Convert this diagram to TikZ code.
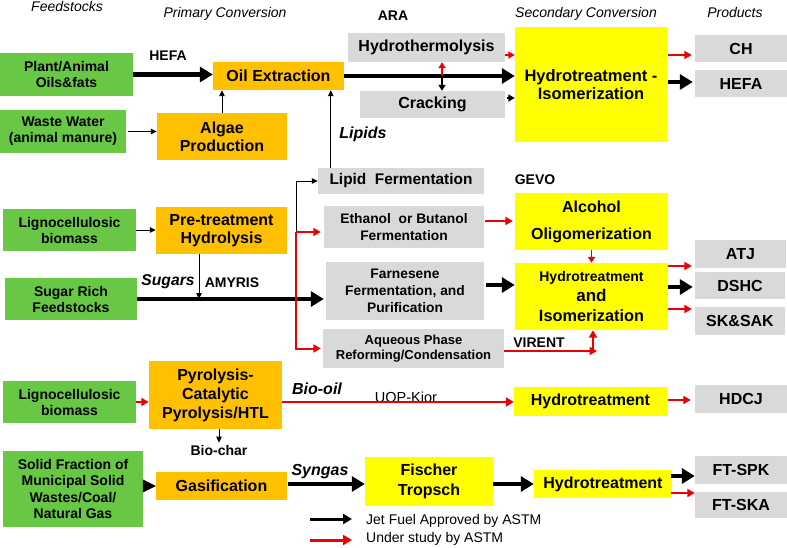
\documentclass[tikz,border=0pt]{standalone}
\usepackage{fontspec}
\setmainfont{Liberation Sans}
\usetikzlibrary{arrows.meta}
\definecolor{grn}{RGB}{104,200,70}
\definecolor{org}{RGB}{255,192,0}
\definecolor{gry}{RGB}{217,217,217}
\definecolor{yel}{RGB}{255,255,0}
\definecolor{rd}{RGB}{236,0,0}
\begin{document}
\begin{tikzpicture}[x=1pt,y=-1pt,
  sz/.style 2 args={minimum width=#1pt, minimum height=#2pt},
  box/.style={inner sep=0pt, align=center, font=\bfseries\fontsize{16}{18}\selectfont},
  gbox/.style={box, fill=grn, font=\bfseries\fontsize{14}{16}\selectfont},
  obox/.style={box, fill=org},
  ybox/.style={box, fill=yel},
  gbx/.style={box, fill=gry},
  thk/.style={line width=4.5pt, -{Triangle[length=13pt,width=15pt]}},
  thn/.style={line width=1pt, -{Triangle[length=6pt,width=5.5pt]}},
  rar/.style={color=rd, line width=2pt, -{Triangle[length=7.5pt,width=8pt]}},
  lbl/.style={font=\bfseries\fontsize{14}{16}\selectfont, inner sep=0pt},
  ilbl/.style={font=\bfseries\itshape\fontsize{16}{18}\selectfont, inner sep=0pt},
  hdr/.style={font=\itshape\fontsize{14}{16}\selectfont, inner sep=0pt, anchor=base},
]
\useasboundingbox (0,0) rectangle (787,547);

% headers
\node[hdr] (hFeed) at (67,11.5) {Feedstocks};
\node[hdr] (hPrim) at (225,17) {Primary Conversion};
\node[hdr] (hSec) at (586,17) {Secondary Conversion};
\node[hdr] (hProd) at (735,17) {Products};

% feedstocks
\node[gbox, sz={133}{43}] (plant) at (66.5,74.5) {Plant/Animal\\Oils\&fats};
\node[gbox, sz={126}{43}] (waste) at (63,131.5) {Waste Water\\(animal manure)};
\node[gbox, sz={133}{42}] (ligA) at (69.5,230) {Lignocellulosic\\biomass};
\node[gbox, sz={132}{42}] (sugar) at (71,299) {Sugar Rich\\Feedstocks};
\node[gbox, sz={133}{42}] (ligB) at (69.5,402) {Lignocellulosic\\biomass};
\node[gbox, sz={140}{76}, font=\bfseries\fontsize{14}{16.5}\selectfont] (solid) at (73,489) {Solid Fraction of\\Municipal Solid\\Wastes/Coal/\\Natural Gas};

% primary conversion
\node[obox, sz={131}{28}] (oil) at (278.5,76) {Oil Extraction};
\node[obox, sz={130}{47}] (algae) at (222,136.5) {Algae\\Production};
\node[obox, sz={131}{47}] (pre) at (221.5,230.5) {Pre-treatment\\Hydrolysis};
\node[obox, sz={133}{68}, font=\bfseries\fontsize{16}{19}\selectfont] (pyro) at (215.5,395) {Pyrolysis-\\Catalytic\\Pyrolysis/HTL};
\node[obox, sz={131}{28}] (gas) at (221.5,486) {Gasification};

% intermediate (gray)
\node[gbx, sz={157}{29}] (hyd) at (426.5,47.5) {Hydrothermolysis};
\node[gbx, sz={145}{27}] (crk) at (432.5,104.5) {Cracking};
\node[gbx, sz={166}{26}, font=\bfseries\fontsize{15.4}{17}\selectfont] (lip) at (401,181) {Lipid~~Fermentation};
\node[gbx, sz={160}{42}, font=\bfseries\fontsize{13.8}{17}\selectfont] (eth) at (404,227) {Ethanol~~or Butanol\\Fermentation};
\node[gbx, sz={158}{58}, font=\bfseries\fontsize{13.8}{17}\selectfont] (far) at (405,291) {Farnesene\\Fermentation, and\\Purification};
\node[gbx, sz={181}{39}, font=\bfseries\fontsize{13}{15}\selectfont] (aq) at (413.5,348.5) {Aqueous Phase\\Reforming/Condensation};

% secondary conversion (yellow)
\node[ybox, sz={152}{115}, font=\bfseries\fontsize{16.5}{17.5}\selectfont] (hti) at (591,84.5) {Hydrotreatment -\\Isomerization};
\node[ybox, sz={153}{57}, font=\bfseries\fontsize{16}{27}\selectfont] (alc) at (591.5,221.5) {Alcohol\\Oligomerization};
\node[ybox, sz={153}{67}, font=\bfseries\fontsize{14}{20}\selectfont] (hti2) at (591.5,296.5) {Hydrotreatment\\\fontsize{17}{20}\selectfont and\\\fontsize{16.3}{20}\selectfont Isomerization};
\node[ybox, sz={153}{29}] (ht3) at (590.5,401.5) {Hydrotreatment};
\node[ybox, sz={128}{49}, font=\bfseries\fontsize{16}{20}\selectfont] (ft) at (429,481.5) {Fischer\\Tropsch};
\node[ybox, sz={138}{28}] (ht4) at (603,484) {Hydrotreatment};

% products
\node[gbx, sz={92}{27}] (pCH) at (741,48.5) {CH};
\node[gbx, sz={92}{27}] (pHEFA) at (741,83.5) {HEFA};
\node[gbx, sz={91}{28}] (pATJ) at (740.5,254) {ATJ};
\node[gbx, sz={90}{27}] (pDSHC) at (740,285.5) {DSHC};
\node[gbx, sz={90}{28}] (pSK) at (740,321) {SK\&SAK};
\node[gbx, sz={92}{28}] (pHDCJ) at (741,399) {HDCJ};
\node[gbx, sz={92}{28}] (pSPK) at (741,470) {FT-SPK};
\node[gbx, sz={92}{26}] (pSKA) at (741,505) {FT-SKA};

% labels
\node[lbl] (tHEFA) at (168,55.5) {HEFA};
\node[lbl, anchor=base] (tARA) at (393,20) {ARA};
\node[ilbl] (tLip) at (363,134) {Lipids};
\node[lbl] (tGEVO) at (535,180) {GEVO};
\node[ilbl, font=\bfseries\itshape\fontsize{15.7}{18}\selectfont] (tSug) at (168,282) {Sugars};
\node[lbl] (tAMY) at (232,283) {AMYRIS};
\node[lbl] (tVIR) at (539,343) {VIRENT};
\node[ilbl] (tBio) at (317,389) {Bio-oil};
\node[font=\fontsize{14.5}{16}\selectfont, inner sep=0pt] (tUOP) at (406,397) {UOP-Kior};
\node[lbl] (tChar) at (219,450) {Bio-char};
\node[ilbl] (tSyn) at (320,472) {Syngas};

% connectors: top row
\draw[thk] (plant.east) -- (oil.west |- plant.east);
\draw[thn] ([xshift=2pt]waste.east) -- (algae.west |- waste.east);
\draw[thn] (algae.north) -- (algae.north |- oil.south);
\coordinate (lipTop) at ([xshift=13pt]lip.north west);
\draw[thn] (lipTop) -- (lipTop |- oil.south);
\draw[thk] (oil.east) -- (hti.west |- oil.east);
\coordinate (jn) at (442,76);
\draw[rar, line width=1.8pt, -{Triangle[length=6pt,width=7pt]}] (jn) -- (jn |- hyd.south);
\draw[line width=1.5pt, -{Triangle[length=6pt,width=7pt]}] (jn) -- (jn |- crk.north);
\draw[rar, line width=1.6pt, -{Triangle[length=6.5pt,width=7pt]}] (hyd.east |- 0,55) -- (hti.west |- 0,55);
\draw[line width=1.6pt, -{Triangle[length=6.5pt,width=7pt]}, shorten <=2pt] (crk.east |- 0,98) -- (hti.west |- 0,98);
\draw[rar, shorten <=1pt, shorten >=3pt] (hti.east |- 0,55) -- (pCH.west |- 0,55);
\draw[thk, shorten <=1pt, shorten >=2pt] (hti.east |- 0,82) -- (pHEFA.west |- 0,82);

% middle rows
\draw[thn] (ligA.east) -- (pre.west |- ligA.east);
\draw[thn] (199,0 |- pre.south) -- (199,0 |- sugar.east);
\draw[thk, shorten >=2pt] (sugar.east) -- (far.west |- sugar.east);
\coordinate (br) at (296,232);
\draw[thn] (br) |- (lip.west);
\draw[rar, shorten >=3pt] (br) -- (eth.west |- br);
\draw[rar, shorten >=2pt] (br) |- (aq.west);
\draw[rar, shorten <=1pt, shorten >=2pt] (eth.east |- 0,221) -- (alc.west |- 0,221);
\draw[rar, line width=1.8pt, -{Triangle[length=6pt,width=7pt]}] (alc.south) -- (hti2.north);
\draw[thk, shorten <=2pt] (far.east |- 0,285) -- (hti2.west |- 0,285);
\coordinate (vr) at (597,351);
\coordinate (vu) at (593,351);
\draw[rar] (aq.east |- vr) -- (vr);
\draw[rar] (vu) -- (vu |- hti2.south);
\draw[rar, shorten >=3pt] (hti2.east |- 0,266) -- (pATJ.west |- 0,266);
\draw[thk, shorten >=2pt] (hti2.east |- 0,287) -- (pDSHC.west |- 0,287);
\draw[rar, shorten >=3pt] (hti2.east |- 0,309) -- (pSK.west |- 0,309);

% bottom rows
\draw[rar] (ligB.east) -- (pyro.west |- ligB.east);
\draw[rar, line width=2.5pt, -{Triangle[length=8pt,width=9pt]}] (pyro.east |- 0,402) -- (ht3.west |- 0,402);
\draw[rar, shorten <=1pt, shorten >=4pt] (ht3.east |- 0,400) -- (pHDCJ.west |- 0,400);
\draw[thn] (tChar.north |- pyro.south) -- ([yshift=2pt]tChar.north);
\draw[line width=0.4pt, -{Triangle[length=13pt,width=13pt]}] (solid.east |- gas.west) -- (gas.west);
\draw[thk, shorten <=1pt] (gas.east |- 0,484) -- (ft.west |- 0,484);
\draw[thk] (ft.east |- 0,484) -- (ht4.west |- 0,484);
\draw[thk] ([xshift=-1pt]ht4.east |- 0,476) -- (pSPK.west |- 0,476);
\draw[rar] ([xshift=-1pt]ht4.east |- 0,493) -- (pSKA.west |- 0,493);

% legend
\coordinate (l1a) at (310,519);
\coordinate (l1b) at (352,519);
\coordinate (l2a) at (310,540);
\coordinate (l2b) at (352,540);
\draw[line width=3pt, -{Triangle[length=9pt,width=10pt]}] (l1a) -- (l1b);
\draw[color=rd, line width=3pt, -{Triangle[length=9pt,width=10pt]}] (l2a) -- (l2b);
\node[anchor=west, inner sep=0pt, font=\fontsize{14}{16}\selectfont] (leg1) at (366,521) {Jet Fuel Approved by ASTM};
\node[anchor=west, inner sep=0pt, font=\fontsize{14}{16}\selectfont] (leg2) at (366,539) {Under study by ASTM};
\end{tikzpicture}
\end{document}
